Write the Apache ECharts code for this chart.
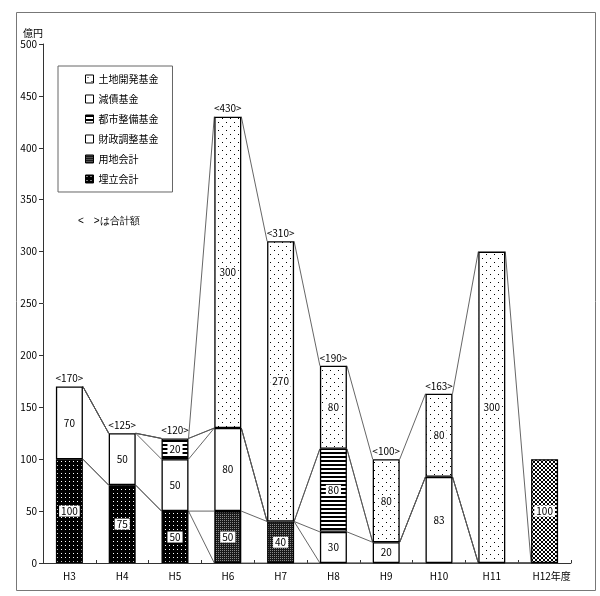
<!DOCTYPE html>
<html><head><meta charset="utf-8">
<script src="https://cdn.jsdelivr.net/npm/echarts@6/dist/echarts.min.js"></script>
<style>html,body{margin:0;padding:0;background:#fff}#c{width:600px;height:596px}</style>
</head><body><div id="c"></div>
<script>
// ---- data ----
const categories = ['H3','H4','H5','H6','H7','H8','H9','H10','H11','H12'];
const umetate = [100, 75, 50, 0, 0, 0, 0, 0, 0, 0];        // 埋立会計
const youchi  = [0, 0, 0, 50, 40, 0, 0, 0, 0, 0];          // 用地会計
const zaisei  = [70, 50, 50, 80, 0, 30, 20, 83, 0, 0];     // 財政調整基金
const toshi   = [0, 0, 20, 0, 0, 80, 0, 0, 0, 0];          // 都市整備基金
const gensai  = [0, 0, 0, 0, 0, 0, 0, 0, 0, 0];            // 減債基金
const tochi   = [0, 0, 0, 300, 270, 80, 80, 80, 300, 0];   // 土地開発基金
const other   = [0, 0, 0, 0, 0, 0, 0, 0, 0, 100];          // H12 (凡例外)
const seriesNames = ['埋立会計','用地会計','財政調整基金','都市整備基金','減債基金','土地開発基金'];
const yMin = 0, yMax = 500, yStep = 50;

// ---- patterns ----
function pat(w, h, draw) {
  const c = document.createElement('canvas'); c.width = w; c.height = h;
  const g = c.getContext('2d'); draw(g, w, h);
  return { image: c, repeat: 'repeat' };
}
const pUme = pat(4, 4, (g) => { g.fillStyle = '#000'; g.fillRect(0,0,4,4); g.fillStyle = '#fff'; g.fillRect(1,1,1,1); });
const pYou = pat(2, 2, (g) => { g.fillStyle = '#1a1a1a'; g.fillRect(0,0,2,2); g.fillStyle = '#8a8a8a'; g.fillRect(0,0,1,1); });
const pWhite = '#ffffff';
const pToshi = pat(4, 4, (g) => { g.fillStyle = '#fff'; g.fillRect(0,0,4,4); g.fillStyle = '#000'; g.fillRect(0,0,4,2); });
const pTochi = pat(8, 8, (g) => { g.fillStyle = '#fff'; g.fillRect(0,0,8,8); g.fillStyle = '#000'; g.fillRect(2,2,1,1); g.fillRect(6,6,1,1); });
const pOther = pat(4, 4, (g) => { g.fillStyle = '#fff'; g.fillRect(0,0,4,4); g.fillStyle = '#000';
  [[0,0],[1,1],[2,2],[3,3],[3,0],[2,1],[1,2],[0,3]].forEach(p => g.fillRect(p[0],p[1],1,1)); });
const fills = [pUme, pYou, pWhite, pToshi, pWhite, pTochi];

const stackArrs = [umetate, youchi, zaisei, toshi, gensai, tochi];
const cums = [];
stackArrs.forEach((arr, s) => cums.push(arr.map((v, i) => v + (s > 0 ? cums[s-1][i] : 0))));
const totals = categories.map((_, i) => stackArrs.reduce((a, arr) => a + arr[i], 0) + other[i]);
const segCount = categories.map((_, i) => stackArrs.concat([other]).filter(a => a[i] > 0).length);

const BAR_W = 27;
const font = '"Noto Sans CJK JP", sans-serif';
const labelCfg = {
  show: true, position: 'inside', fontSize: 10, color: '#000', fontFamily: font,
  backgroundColor: '#fff', padding: [1, 2, 0, 2],
  formatter: p => p.value
};

const barSeries = stackArrs.map((arr, s) => ({
  name: seriesNames[s], type: 'bar', stack: 'a', barWidth: BAR_W,
  data: arr.map(v => v > 0 ? v : '-'),
  itemStyle: { color: fills[s], borderColor: '#000', borderWidth: 1.3 },
  label: labelCfg, z: 3
}));
barSeries.push({
  name: 'H12', type: 'bar', stack: 'a', barWidth: BAR_W,
  data: other.map(v => v > 0 ? v : '-'),
  itemStyle: { color: pOther, borderColor: '#000', borderWidth: 1.3 },
  label: labelCfg, z: 3
});

const connector = {
  type: 'custom', z: 2, silent: true,
  data: categories.map((_, i) => [i]),
  encode: { x: 0 },
  renderItem: (params, api) => {
    const i = api.value(0);
    const children = [];
    if (i < categories.length - 1) {
      for (let s = 0; s < cums.length; s++) {
        const a = api.coord([i, cums[s][i]]);
        const b = api.coord([i + 1, cums[s][i + 1]]);
        children.push({ type: 'line', shape: { x1: a[0] + BAR_W / 2, y1: a[1], x2: b[0] - BAR_W / 2, y2: b[1] },
          style: { stroke: '#555', lineWidth: 0.9 } });
      }
    }
    if (segCount[i] > 1) {
      const t = api.coord([i, totals[i]]);
      children.push({ type: 'text', x: t[0], y: t[1] - 3,
        style: { text: '<' + totals[i] + '>', fontSize: 10, fontFamily: font, fill: '#000', align: 'center', verticalAlign: 'bottom' } });
    }
    return { type: 'group', children };
  }
};

const chart = echarts.init(document.getElementById('c'), null, { renderer: 'canvas' });
chart.setOption({
  animation: false,
  backgroundColor: '#fff',
  textStyle: { fontFamily: font },
  grid: { left: 43, right: 29, top: 44, bottom: 33 },
  legend: {
    data: seriesNames.slice().reverse(),
    icon: 'rect',
    orient: 'vertical', left: 58, top: 66,
    itemWidth: 8, itemHeight: 8, itemGap: 10,
    padding: [8, 14, 8, 27],
    borderColor: '#666', borderWidth: 1,
    textStyle: { fontSize: 10, color: '#000', fontFamily: font },
    itemStyle: { borderWidth: 1, borderColor: '#000' }
  },
  xAxis: {
    type: 'category', data: categories,
    axisLine: { lineStyle: { color: '#333', width: 1 } },
    axisTick: { show: true, inside: true, length: 3, lineStyle: { color: '#333' } },
    axisLabel: { fontSize: 10, color: '#000', margin: 8, interval: 0,
      formatter: v => v === 'H12' ? '{p|H12年度}' : v,
      rich: { p: { fontSize: 10, color: '#000', padding: [0, 0, 0, 14], fontFamily: font } } }
  },
  yAxis: {
    type: 'value', min: yMin, max: yMax, interval: yStep,
    name: '億円', nameLocation: 'end', nameGap: 6,
    nameTextStyle: { fontSize: 10, color: '#000', align: 'right', fontFamily: font },
    axisLine: { show: true, lineStyle: { color: '#333', width: 1 } },
    axisTick: { show: true, length: 4, lineStyle: { color: '#333' } },
    splitLine: { show: false },
    axisLabel: { fontSize: 10, color: '#000', margin: 6 }
  },
  graphic: [
    { type: 'rect', left: 14, top: 10, shape: { width: 579, height: 578 }, style: { fill: 'none', stroke: '#777', lineWidth: 1 }, silent: true },
    { type: 'text', left: 78, top: 216, style: { text: '<　>は合計額', fontSize: 10, fill: '#000', font: '10px ' + font } }
  ],
  series: barSeries.concat([connector])
});
</script></body></html>
